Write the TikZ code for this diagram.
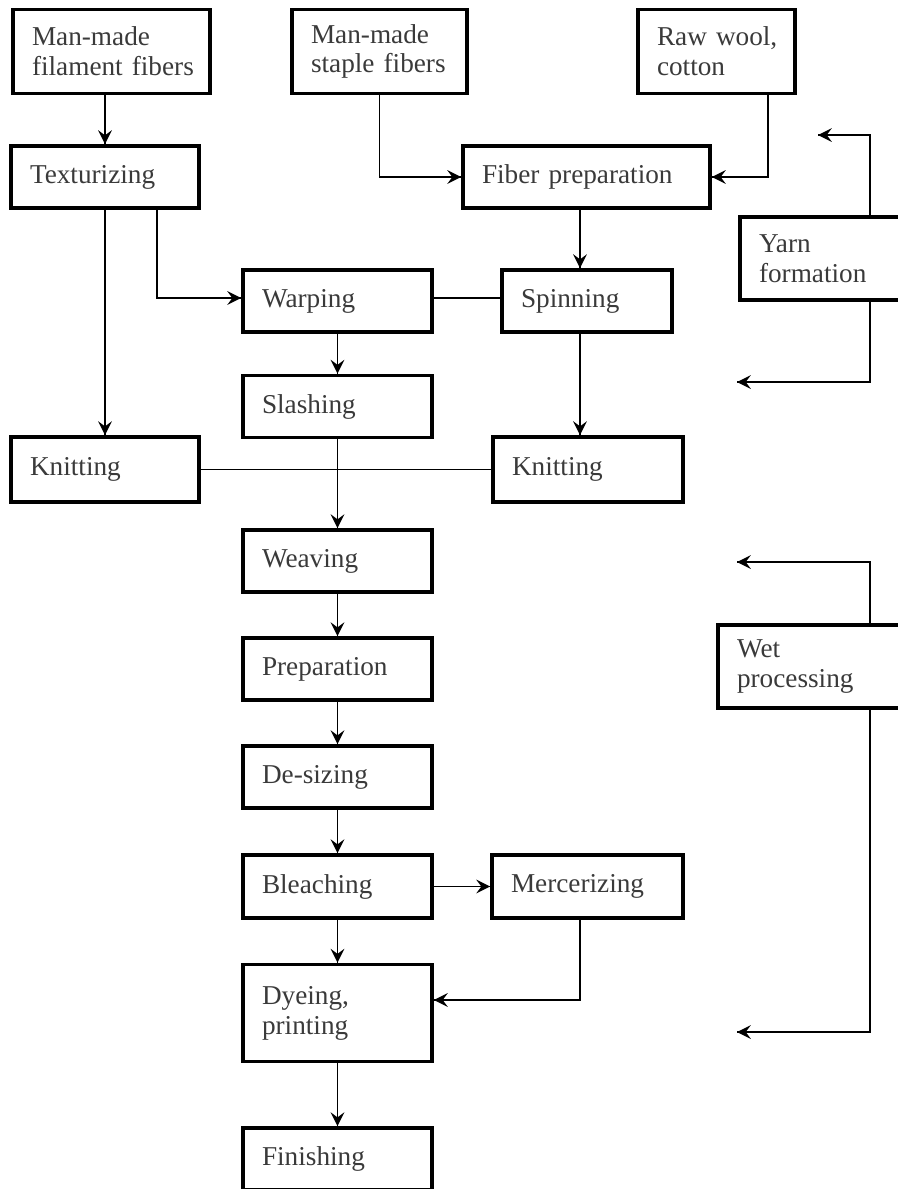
\documentclass[tikz,border=0pt]{standalone}
\usepackage{fontspec}
\setmainfont{Liberation Serif}
\usepackage{tikz}
\usetikzlibrary{shapes,arrows}
\usetikzlibrary{arrows,decorations.markings}
\definecolor{labelColor}{HTML}{3A3A3A}
\tikzstyle{stage}=[rectangle, draw=black, line width=2.2pt, inner xsep=0.38cm, inner ysep=0.1cm, align=left, text=labelColor, font=\fontsize{15.5}{17}\selectfont, text width=3.02cm, minimum height=1.24cm]
\tikzstyle{twoline}=[minimum height=1.68cm]
\tikzstyle{link}=[line width=0.9pt]
\tikzstyle{arrow} = [line width=0.9pt, decoration={markings,mark=at position 1 with
	{\arrow[scale=1.8,>=stealth]{>}}},postaction={decorate}]

\begin{document}
\begin{tikzpicture} [node distance=2.16cm]
			\useasboundingbox (0,0) rectangle (17.96,-23.78);
			\clip (0,0) rectangle (17.96,-23.78);
			
			\node (filament) [stage, twoline, text width=3.18cm] at (2.23,-1.03) {Man-made\\filament~fibers};
			\node (staple) [stage, twoline, text width=2.74cm] at (7.59,-1.03) {Man-made\\staple~fibers};
			\node (raw wool) [stage, twoline, text width=2.38cm] at (14.33,-1.03) {Raw~wool,\\cotton};
			
			\node (texturizing) [stage, text width=3.0cm] at (2.10,-3.54) {Texturizing};
			\node (fiber prep) [stage, text width=4.18cm] at (11.73,-3.54) {Fiber preparation};
			\node (yarn) [stage, text width=3.64cm, minimum height=1.66cm] at (17.0,-5.17) {Yarn\\formation};
			
			\node (warping) [stage] at (6.75,-6.02) {Warping};
			\node (spinning) [stage, right of=warping, xshift=2.83cm, text width=2.64cm] {Spinning};
			\node (slashing) [stage, below of=warping, yshift=0.05cm] {Slashing};
			
			\node (knitting left) [stage, text width=3.0cm, minimum height=1.3cm] at (2.10,-9.39) {Knitting};
			\node (knitting right) [stage, text width=3.04cm, minimum height=1.3cm] at (11.76,-9.39) {Knitting};
			
			\node (weaving) [stage] at (6.75,-11.22) {Weaving};
			\node (preparation) [stage, below of=weaving] {Preparation};
			\node (desizing) [stage, below of=preparation] {De-sizing};
			\node (bleaching) [stage, below of=desizing, yshift=-0.03cm, minimum height=1.26cm] {Bleaching};
			\node (mercerizing) [stage, right of=bleaching, xshift=2.84cm, text width=3.06cm, minimum height=1.26cm] {Mercerizing};
			\node (dyeing) [stage, below of=bleaching, yshift=-0.37cm, minimum height=1.94cm] {Dyeing,\\printing};
			\node (finishing) [stage, below of=dyeing, yshift=-0.76cm] {Finishing};
			
			\node (wet) [stage, text width=4.08cm, minimum height=1.66cm] at (16.78,-13.33) {Wet\\processing};
			
			\coordinate (yarn up) at (16.36,-2.70);
			\coordinate (yarn down) at (14.74,-7.64);
			\coordinate (wet up) at (14.74,-11.24);
			\coordinate (wet down) at (14.74,-20.64);
			
			\draw [arrow] (filament.south -| texturizing.north) -- (texturizing.north);
			\draw [arrow] (staple.south) |- (fiber prep.west);
			\draw [arrow] ([xshift=1.03cm]raw wool.south) |- (fiber prep.east);
			\draw [arrow] (texturizing) -- (knitting left);
			\draw [arrow] ([xshift=1.04cm]texturizing.south) |- ([yshift=0.06cm]warping.west);
			\draw [link] ([yshift=0.06cm]warping.east) -- ([yshift=0.06cm]spinning.west);
			\draw [arrow] ([xshift=-0.13cm]fiber prep.south) -- ([xshift=-0.14cm]spinning.north);
			\draw [arrow] ([xshift=-0.14cm]spinning.south) -- ([xshift=-0.16cm]knitting right.north);
			\draw [arrow] (warping) -- (slashing);
			\draw [link] (knitting left) -- (knitting right);
			\draw [arrow] (slashing) -- (weaving);
			\draw [arrow] (weaving) -- (preparation);
			\draw [arrow] (preparation) -- (desizing);
			\draw [arrow] (desizing) -- (bleaching);
			\draw [arrow] (bleaching) -- (mercerizing);
			\draw [arrow] (bleaching) -- (dyeing);
			\draw [arrow] ([xshift=-0.15cm]mercerizing.south) |- ([yshift=0.26cm]dyeing.east);
			\draw [arrow] (dyeing) -- (finishing);
			
			\draw [arrow] ([xshift=0.4cm]yarn.north) |- (yarn up);
			\draw [arrow] ([xshift=0.4cm]yarn.south) |- (yarn down);
			\draw [arrow] ([xshift=0.62cm]wet.north) |- (wet up);
			\draw [arrow] ([xshift=0.62cm]wet.south) |- (wet down);
			
			\end{tikzpicture}
\end{document}
